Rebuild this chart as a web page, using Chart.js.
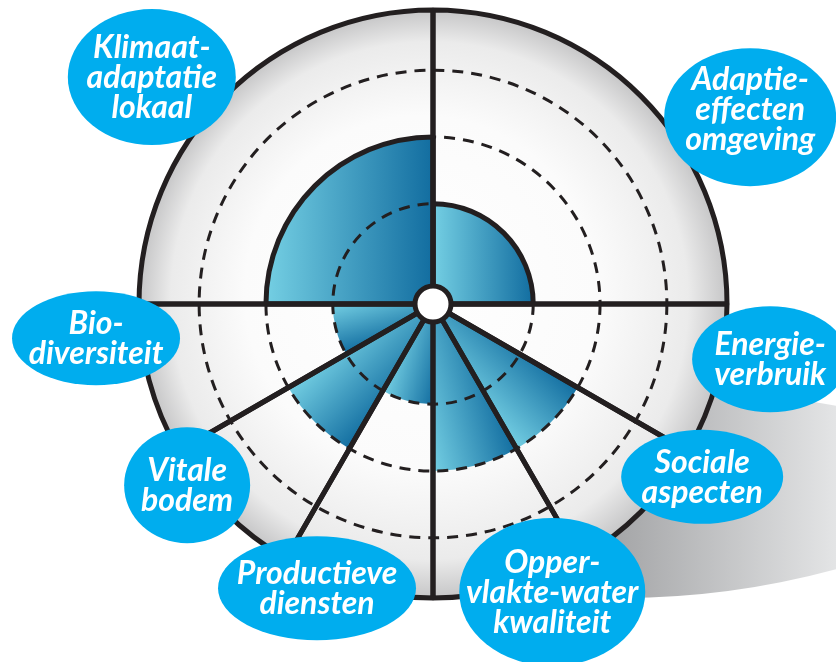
<!DOCTYPE html>
<html>
<head>
<meta charset="utf-8">
<script src="https://cdn.jsdelivr.net/npm/chart.js@4.4.1/dist/chart.umd.min.js"></script>
<style>
    body { margin: 0; background: #ffffff; }
    #wheel { display: block; }
</style>
</head>
<body>
<canvas id="wheel" width="836" height="662"></canvas>
<script>
// Sector names, clockwise from 12 o'clock
const sectorLabels = [
    ['Adaptie-', 'effecten', 'omgeving'],
    ['Energie-', 'verbruik'],
    ['Sociale', 'aspecten'],
    ['Opper-', 'vlakte-water', 'kwaliteit'],
    ['Productieve', 'diensten'],
    ['Vitale', 'bodem'],
    ['Bio-', 'diversiteit'],
    ['Klimaat-', 'adaptatie', 'lokaal'],
];

// Width of each sector in degrees
const sectorAngles = [90, 30, 30, 30, 30, 30, 30, 90];

// Score of each sector (0 = empty)
const sectorScores = [1, 0, 2, 2, 1, 2, 1, 2];

// Dashed rings
const ringValues = [1, 2, 3];
const scaleMin = -0.5;
const scaleMax = 3.9;

// Bubble placement around the wheel: angle (deg), distance (x radius), ellipse radii
const bubbleLayout = [
    { angle: 59.5, dist: 1.252, rx: 86, ry: 69, ty: -8 },
    { angle: 99.3, dist: 1.162, rx: 78, ry: 53, ty: 0 },
    { angle: 122.7, dist: 1.088, rx: 81, ry: 47, ty: 0 },
    { angle: 157.5, dist: 1.06, rx: 93, ry: 74, ty: 0 },
    { angle: 202.2, dist: 1.044, rx: 99, ry: 52, ty: 0 },
    { angle: 233.6, dist: 1.039, rx: 63, ry: 58, ty: 0 },
    { angle: 264.2, dist: 1.152, rx: 84, ry: 47, ty: 0 },
    { angle: 308.9, dist: 1.229, rx: 84, ry: 68, ty: 0 },
];

const INK = '#231f20';
const BUBBLE = '#00adee';

const toRad = (deg) => deg * Math.PI / 180;

// Gradient fill for a scored sector, light on one edge, dark on the other
const sectorFill = (context) => {
    const i = context.dataIndex;
    const chart = context.chart;
    const scale = chart.scales && chart.scales.r;
    if (!scale || !isFinite(scale.xCenter) || sectorScores[i] <= 0) {
        return 'rgba(0,0,0,0)';
    }
    const cx = scale.xCenter;
    const cy = scale.yCenter;
    const ro = scale.getDistanceFromCenterForValue(sectorScores[i]);
    const start = sectorAngles.slice(0, i).reduce((a, b) => a + b, 0);
    const end = start + sectorAngles[i];
    const mid = (start + end) / 2;

    let light = start;
    let dark = end;
    if (mid > 90 && mid < 270) {
        light = end;
        dark = start;
    }
    const pt = (deg) => [cx + ro * Math.sin(toRad(deg)), cy - ro * Math.cos(toRad(deg))];
    let [x0, y0] = pt(light);
    let [x1, y1] = pt(dark);
    if (sectorAngles[i] >= 90) {
        y0 = cy;
        y1 = cy;
    }
    const g = chart.ctx.createLinearGradient(x0, y0, x1, y1);
    g.addColorStop(0, '#74cfe3');
    g.addColorStop(1, '#126da0');
    return g;
};

// Drop shadow and the grey disc behind the wheel
const backdropPlugin = {
    id: 'backdrop',
    beforeDatasetsDraw(chart) {
        const scale = chart.scales.r;
        const ctx = chart.ctx;
        const cx = scale.xCenter;
        const cy = scale.yCenter;
        const R = scale.drawingArea;

        // shadow cast to the lower right
        ctx.save();
        const a0 = toRad(106);
        const a1 = toRad(166);
        ctx.beginPath();
        ctx.moveTo(cx + R * Math.sin(a0), cy - R * Math.cos(a0));
        ctx.lineTo(cx + R * 1.45, cy + R * 0.36);
        ctx.lineTo(cx + R * 1.45, cy + R * 0.88);
        ctx.quadraticCurveTo(cx + R * 0.85, cy + R * 1.06, cx + R * Math.sin(a1), cy - R * Math.cos(a1));
        ctx.closePath();
        const sg = ctx.createLinearGradient(cx + R * 0.6, 0, cx + R * 1.4, 0);
        sg.addColorStop(0, '#a3a4a6');
        sg.addColorStop(1, '#e6e7e8');
        ctx.fillStyle = sg;
        ctx.fill();
        ctx.restore();

        // disc
        ctx.save();
        const dg = ctx.createRadialGradient(cx - R * 0.1, cy - R * 0.1, 0, cx, cy, R);
        dg.addColorStop(0, '#ffffff');
        dg.addColorStop(0.6, '#fbfbfb');
        dg.addColorStop(0.88, '#ebebeb');
        dg.addColorStop(1, '#c6c6c7');
        ctx.beginPath();
        ctx.arc(cx, cy, R, 0, Math.PI * 2);
        ctx.fillStyle = dg;
        ctx.fill();
        ctx.restore();
    },
};

// Hub and the blue name bubbles
const bubblesPlugin = {
    id: 'bubbles',
    afterDraw(chart) {
        const scale = chart.scales.r;
        const ctx = chart.ctx;
        const cx = scale.xCenter;
        const cy = scale.yCenter;
        const R = scale.drawingArea;

        // hub
        ctx.save();
        ctx.beginPath();
        ctx.arc(cx, cy, 18, 0, Math.PI * 2);
        ctx.fillStyle = '#ffffff';
        ctx.fill();
        ctx.lineWidth = 5;
        ctx.strokeStyle = INK;
        ctx.stroke();
        ctx.restore();

        const lineH = 30;
        const capH = 22;
        bubbleLayout.forEach((b, i) => {
            const bx = cx + R * b.dist * Math.sin(toRad(b.angle));
            const by = cy - R * b.dist * Math.cos(toRad(b.angle));
            ctx.save();
            ctx.beginPath();
            ctx.ellipse(bx, by, b.rx, b.ry, 0, 0, Math.PI * 2);
            ctx.fillStyle = BUBBLE;
            ctx.fill();

            const lines = sectorLabels[i];
            ctx.fillStyle = '#ffffff';
            ctx.font = 'italic bold 32px Lato, "Open Sans", sans-serif';
            ctx.textAlign = 'center';
            ctx.textBaseline = 'alphabetic';
            lines.forEach((line, k) => {
                const y = by + b.ty + (k - (lines.length - 1) / 2) * lineH + capH / 2;
                ctx.fillText(line, bx, y);
            });
            ctx.restore();
        });
    },
};

document.addEventListener('DOMContentLoaded', () => {
    const ctx = document.getElementById('wheel').getContext('2d');

    new Chart(ctx, {
        type: 'polarArea',
        data: {
            labels: sectorLabels.map(l => l.join(' ')),
            datasets: [
                {
                    // black spokes and rim
                    data: sectorLabels.map(() => scaleMax),
                    angle: sectorAngles,
                    backgroundColor: 'rgba(0,0,0,0)',
                    borderColor: INK,
                    borderWidth: 5,
                },
                {
                    data: sectorScores,
                    angle: sectorAngles,
                    backgroundColor: sectorFill,
                    borderColor: INK,
                    borderWidth: (c) => sectorAngles[c.dataIndex] >= 90 ? 5 : 0,
                },
            ],
        },
        options: {
            responsive: false,
            animation: false,
            layout: {
                padding: { left: 139, top: 10, right: 109, bottom: 64 },
            },
            plugins: {
                legend: { display: false },
                tooltip: { enabled: false },
            },
            scales: {
                r: {
                    min: scaleMin,
                    max: scaleMax,
                    ticks: { display: false, stepSize: 1, includeBounds: false },
                    grid: {
                        z: 1,
                        circular: true,
                        lineWidth: 3,
                        color: (c) => ringValues.includes(c.tick && c.tick.value) ? INK : 'rgba(0,0,0,0)',
                    },
                    border: { dash: [11, 8] },
                    angleLines: { display: false },
                    pointLabels: { display: false },
                },
            },
        },
        plugins: [backdropPlugin, bubblesPlugin],
    });
});
</script>
</body>
</html>
